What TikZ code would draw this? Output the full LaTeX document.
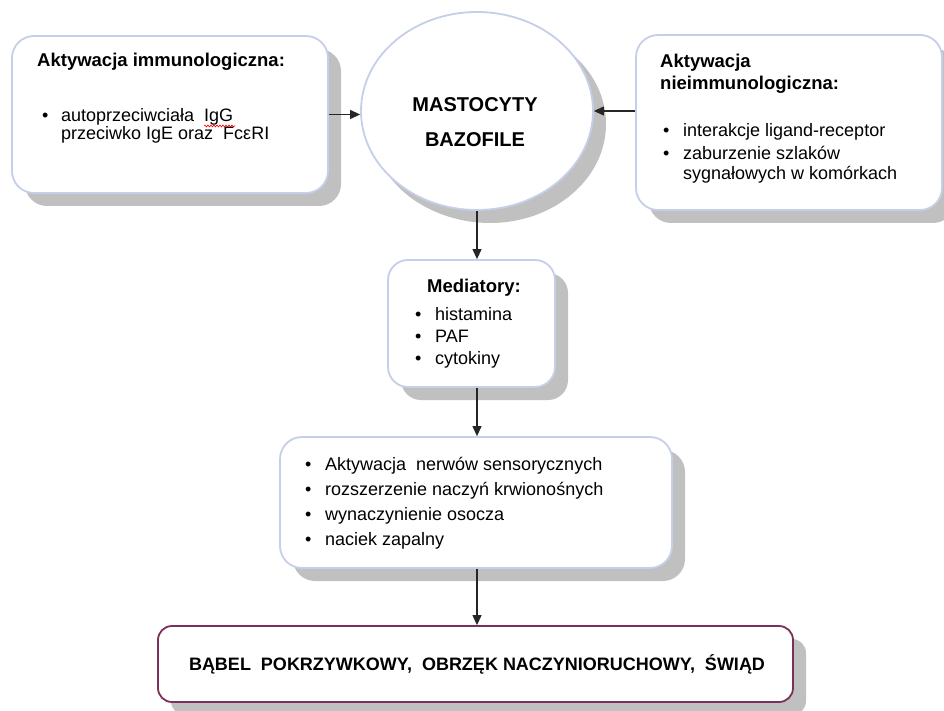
\documentclass[tikz,border=0pt]{standalone}
\usepackage{fontspec}
\setmainfont{Liberation Sans}
\usetikzlibrary{shapes.geometric,shadows,arrows.meta,decorations.pathmorphing}
\definecolor{bordblue}{HTML}{C5CFE9}
\definecolor{shadowgray}{HTML}{C0C0C0}
\definecolor{bordmaroon}{HTML}{7B3157}
\begin{document}
\begin{tikzpicture}[x=1pt,y=-1pt,
  boxbase/.style={draw=bordblue, line width=1.8pt, fill=white, inner sep=0pt,
    drop shadow={shadow xshift=13pt, shadow yshift=-13pt, fill=shadowgray, opacity=1}},
  rbox/.style={boxbase, rectangle, rounded corners=22pt},
  ebox/.style={boxbase, ellipse, drop shadow={shadow xshift=10pt, shadow yshift=-12pt, fill=shadowgray, opacity=1}},
  txt/.style={font=\fontsize{18}{21}\selectfont, anchor=base west, inner sep=0pt},
  btxt/.style={font=\fontsize{18.5}{21}\selectfont\bfseries, inner sep=0pt},
  arr/.style={draw=black!85, line width=1.1pt, -{Triangle[length=10pt,width=9pt]}},
]
\useasboundingbox (0,0) rectangle (944,711);
\fill[white] (0,0) rectangle (944,711);

% boxes
\node[rbox, minimum width=316pt, minimum height=157pt] (lbox) at (170,114.5) {};
\node[ebox, minimum width=232pt, minimum height=198pt] (circ) at (477,111) {};
\node[rbox, minimum width=306pt, minimum height=175pt] (rbox) at (789,122.5) {};
\node[rbox, rounded corners=20pt, minimum width=167pt, minimum height=127pt] (med) at (471.5,323.5) {};
\node[rbox, minimum width=392pt, minimum height=131pt] (eff) at (476,502.5) {};
\node[rbox, draw=bordmaroon, rounded corners=14pt, minimum width=635pt, minimum height=76pt] (res) at (475.5,664) {};

% left box text
\node[btxt, anchor=base west] (ltitle) at (37,67) {Aktywacja immunologiczna:};
\node[txt] (l1) at (42,122) {\makebox[19pt][l]{\textbullet}autoprzeciwciała\ \ IgG};
\node[txt] (l2) at (61,140) {przeciwko IgE oraz\ \ FcεRI};
\draw[red, line width=0.6pt, decorate, decoration={snake, amplitude=1pt, segment length=3pt}] (204,126) -- (235,126);

% circle text
\node[btxt, font=\fontsize{20}{22}\selectfont\bfseries, anchor=base] (c1) at (475,112) {MASTOCYTY};
\node[btxt, font=\fontsize{20}{22}\selectfont\bfseries, anchor=base] (c2) at (475,147) {BAZOFILE};

% right box text
\node[btxt, anchor=base west] (rt1) at (660,68) {Aktywacja};
\node[btxt, anchor=base west] (rt2) at (660,90) {nieimmunologiczna:};
\node[txt] (r1) at (663,137) {\makebox[20pt][l]{\textbullet}interakcje ligand-receptor};
\node[txt] (r2) at (663,160) {\makebox[20pt][l]{\textbullet}zaburzenie szlaków};
\node[txt] (r3) at (683,180) {sygnałowych w komórkach};

% mediators
\node[btxt, anchor=base] (mt) at (474,292) {Mediatory:};
\node[txt] (m1) at (415,320) {\makebox[20pt][l]{\textbullet}histamina};
\node[txt] (m2) at (415,342) {\makebox[20pt][l]{\textbullet}PAF};
\node[txt] (m3) at (415,364) {\makebox[20pt][l]{\textbullet}cytokiny};

% effects
\node[txt] (e1) at (305,470) {\makebox[20pt][l]{\textbullet}Aktywacja\ \ nerwów sensorycznych};
\node[txt] (e2) at (305,495) {\makebox[20pt][l]{\textbullet}rozszerzenie naczyń krwionośnych};
\node[txt] (e3) at (305,520) {\makebox[20pt][l]{\textbullet}wynaczynienie osocza};
\node[txt] (e4) at (305,545) {\makebox[20pt][l]{\textbullet}naciek zapalny};

% result
\node[btxt, font=\fontsize{18}{21}\selectfont\bfseries, anchor=base] (rt) at (477,670) {BĄBEL\ \ POKRZYWKOWY,\ \ OBRZĘK NACZYNIORUCHOWY,\ \ ŚWIĄD};

% arrows
\draw[arr] (lbox.east) -- (lbox.east -| circ.west);
\draw[arr] (circ.east -| rbox.west) -- (circ.east);
\draw[arr] (circ.south) -- (circ.south |- med.north);
\draw[arr] (med.south -| circ.south) -- (eff.north -| circ.south);
\draw[arr] (eff.south -| circ.south) -- (res.north -| circ.south);
\end{tikzpicture}
\end{document}
